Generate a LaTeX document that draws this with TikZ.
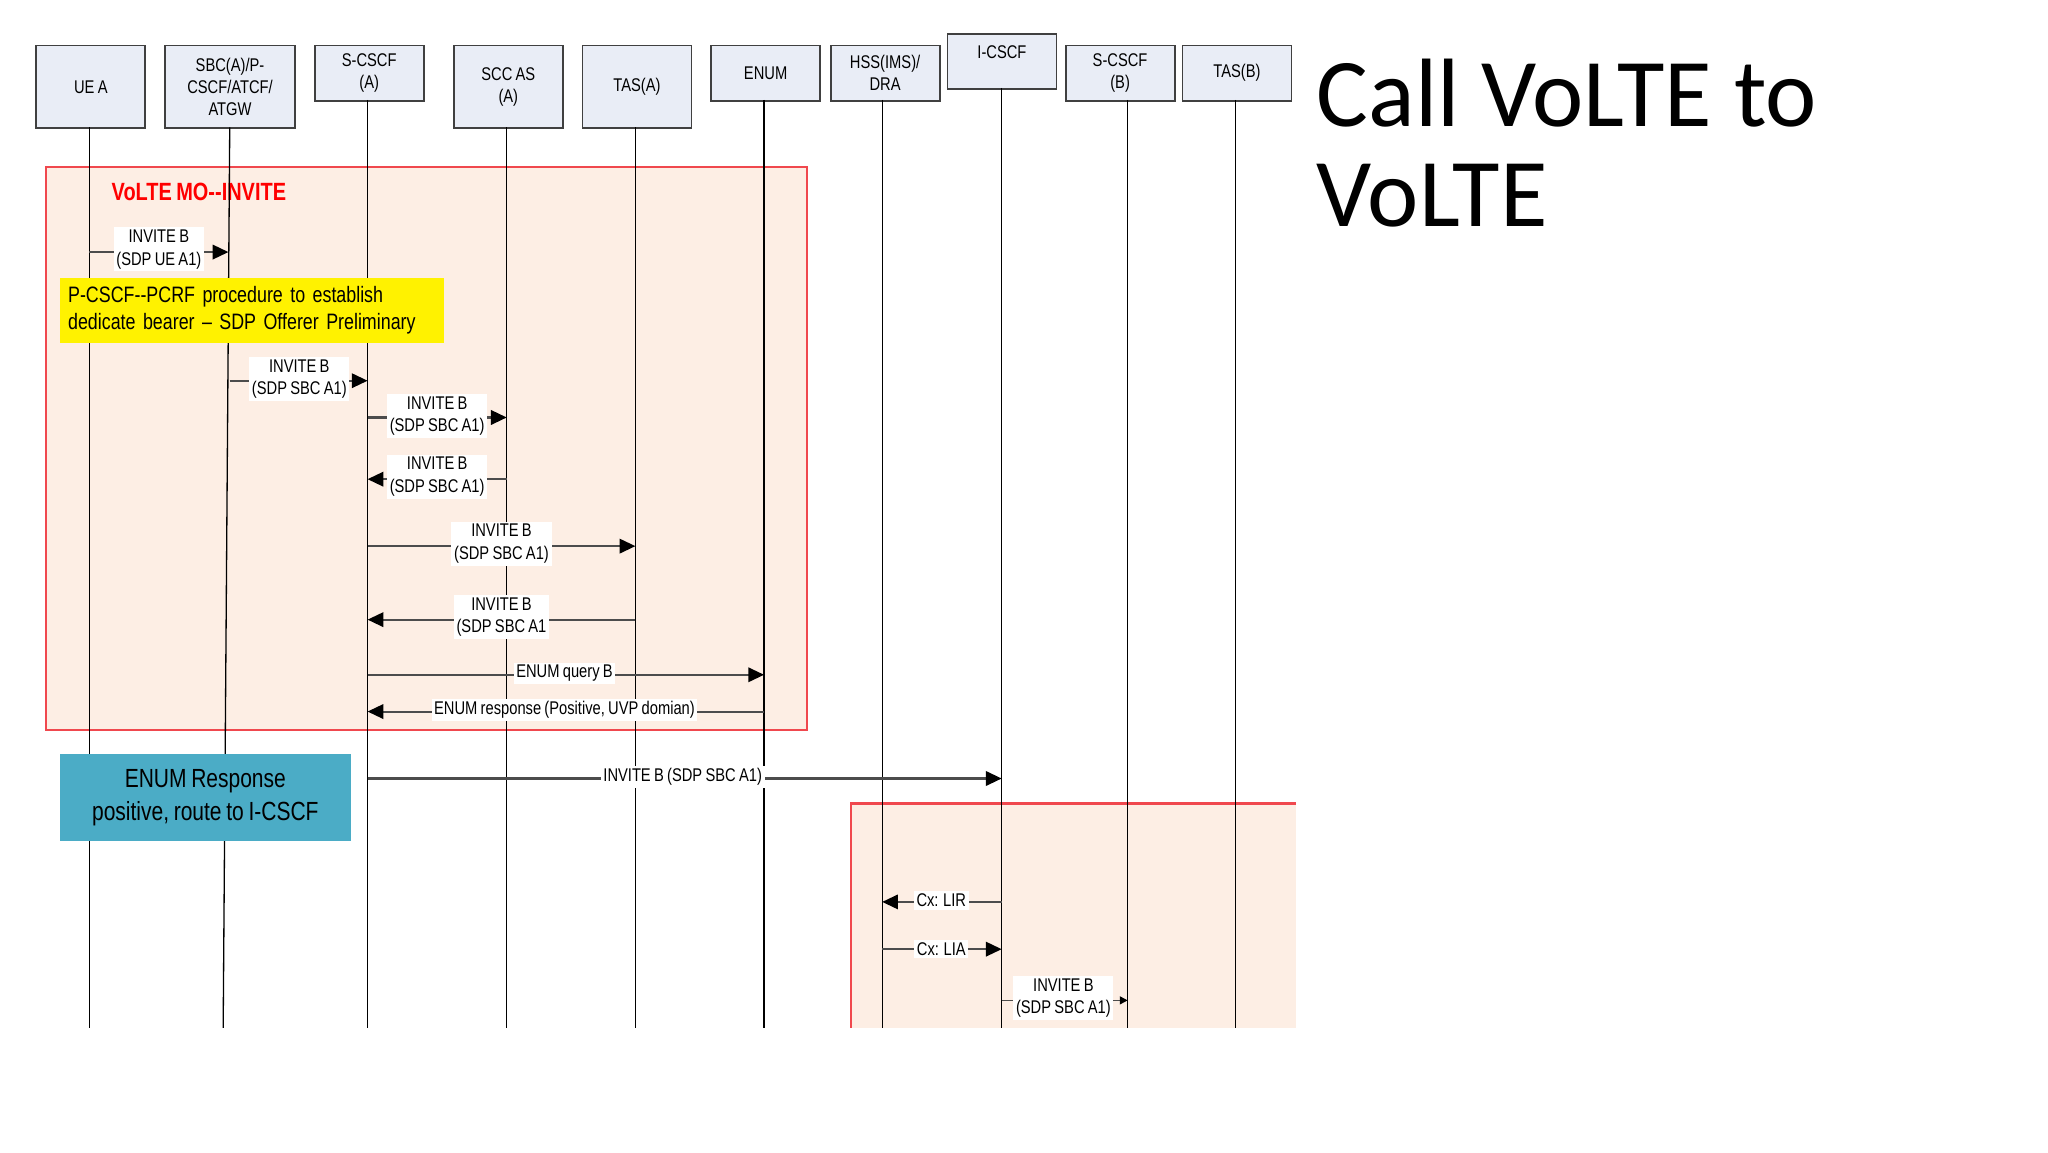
\documentclass[tikz,border=0pt]{standalone}
\usepackage{fontspec}
\setmainfont{Liberation Sans}
\newfontfamily\narrow[FakeStretch=0.8,WordSpace=0.8]{Liberation Sans}
\newfontfamily\titlefont{Carlito}
\usetikzlibrary{arrows.meta,calc}
\definecolor{peach}{HTML}{FDEEE4}
\definecolor{frame}{HTML}{F0484E}
\definecolor{headfill}{HTML}{E9EDF6}
\definecolor{teal}{HTML}{4BACC6}
\begin{document}
\begin{tikzpicture}[x=0.5pt,y=-0.5pt,
  head/.style={draw=black!75,line width=0.7pt,fill=headfill,anchor=north west,inner sep=0pt,align=center,font=\narrow\fontsize{7}{8.5}\selectfont},
  life/.style={draw=black,line width=0.5pt},
  msg/.style={draw=black!70,line width=0.8pt,-{Triangle[length=6pt,width=5.5pt,black]}},
  lbl/.style={fill=white,inner sep=1pt,align=center,font=\narrow\fontsize{7}{8.5}\selectfont}]
\useasboundingbox (0,0) rectangle (1560,878);
% frames
\fill[peach] (35,127) rectangle (615,556);
\draw[frame,line width=0.8pt] (35,127) rectangle (615,556);
\fill[peach] (648,612) rectangle (987,783);
\draw[frame,line width=0.8pt] (648,783) -- (648,612) -- (987,612);
\node[anchor=west,text=red,font=\narrow\bfseries\fontsize{9.5}{11}\selectfont] (ftitle) at (78,146) {VoLTE MO-{}-INVITE};
% heads
\node[head,minimum width=41.5pt,minimum height=31.5pt] (h1) at (27,34) {UE A};
\node[head,minimum width=49.5pt,minimum height=31.5pt] (h2) at (125,34) {SBC(A)/P-\\CSCF/ATCF/\\ATGW};
\node[head,minimum width=41.5pt,minimum height=21pt] (h3) at (239,34) {S-CSCF\\(A)};
\node[head,minimum width=41.5pt,minimum height=31.5pt] (h4) at (345,34) {SCC AS\\(A)};
\node[head,minimum width=41.5pt,minimum height=31.5pt] (h5) at (443,34) {TAS(A)};
\node[head,minimum width=41.5pt,minimum height=21pt] (h6) at (541,34) {ENUM};
\node[head,minimum width=41.5pt,minimum height=21pt] (h7) at (632,34) {HSS(IMS)/\\DRA};
\node[head,minimum width=41.5pt,minimum height=21pt,text depth=7pt] (h8) at (721,25) {I-CSCF};
\node[head,minimum width=41.5pt,minimum height=21pt] (h9) at (811,34) {S-CSCF\\(B)};
\node[head,minimum width=41.5pt,minimum height=21pt] (h10) at (900,34) {TAS(B)};
% lifeline ends
\coordinate (e1) at (68,783); \coordinate (e2) at (170,783); \coordinate (e3) at (280,783);
\coordinate (e4) at (386,783); \coordinate (e5) at (484,783); \coordinate (e6) at (582,783);
\coordinate (e7) at (672,783); \coordinate (e8) at (763,783); \coordinate (e9) at (859,783);
\coordinate (e10) at (941,783);
\coordinate (s1) at (68,97); \coordinate (s2) at (175,97); \coordinate (s3) at (280,76);
\coordinate (s4) at (386,97); \coordinate (s5) at (484,97); \coordinate (s6) at (582,76);
\coordinate (s7) at (672,76); \coordinate (s8) at (763,67); \coordinate (s9) at (859,76);
\coordinate (s10) at (941,76);
\foreach \i in {1,...,10} {\draw[life] (s\i) -- (e\i);}
% boxes
\node[fill=yellow,anchor=north west,minimum width=146.5pt,minimum height=25pt,inner sep=3pt,align=left,text width=140pt,font=\narrow\fontsize{8.5}{10.5}\selectfont] (yb) at (45,211) {P-CSCF-{}-PCRF procedure to establish\\dedicate bearer – SDP Offerer Preliminary};
\node[fill=teal,anchor=north west,minimum width=111pt,minimum height=33pt,inner sep=0pt,align=center,font=\narrow\fontsize{10}{12.5}\selectfont] (tb) at (45,574) {ENUM Response\\positive, route to I-CSCF};
% messages
\coordinate (a1) at (68,192); \coordinate (b1) at (174,192);
\draw[msg] (a1) -- (b1);
\node[lbl] (l1) at (121,190) {INVITE B\\(SDP UE A1)};
\coordinate (a2) at (175,290); \coordinate (b2) at (280,290);
\draw[msg] (a2) -- (b2);
\node[lbl] (l2) at (228,289) {INVITE B\\(SDP SBC A1)};
\coordinate (a3) at (280,318); \coordinate (b3) at (386,318);
\draw[msg] (a3) -- (b3);
\node[lbl] (l3) at (333,317) {INVITE B\\(SDP SBC A1)};
\coordinate (a4) at (386,365); \coordinate (b4) at (280,365);
\draw[msg] (a4) -- (b4);
\node[lbl] (l4) at (333,363) {INVITE B\\(SDP SBC A1)};
\coordinate (a5) at (280,416); \coordinate (b5) at (484,416);
\draw[msg] (a5) -- (b5);
\node[lbl] (l5) at (382,414) {INVITE B\\(SDP SBC A1)};
\coordinate (a6) at (484,472); \coordinate (b6) at (280,472);
\draw[msg] (a6) -- (b6);
\node[lbl] (l6) at (382,470) {INVITE B\\(SDP SBC A1};
\coordinate (a7) at (280,514); \coordinate (b7) at (582,514);
\draw[msg] (a7) -- (b7);
\node[lbl] (l7) at (430,513) {ENUM query B};
\coordinate (a8) at (582,542); \coordinate (b8) at (280,542);
\draw[msg] (a8) -- (b8);
\node[lbl] (l8) at (430,541) {ENUM response (Positive, UVP domian)};
\coordinate (a9) at (280,593); \coordinate (b9) at (763,593);
\draw[msg] (a9) -- (b9);
\node[lbl] (l9) at (520,592) {INVITE B (SDP SBC A1)};
\coordinate (a10) at (763,687); \coordinate (b10) at (672,687);
\draw[msg] (a10) -- (b10);
\node[lbl] (l10) at (717,686) {Cx: LIR};
\coordinate (a11) at (672,723); \coordinate (b11) at (763,723);
\draw[msg] (a11) -- (b11);
\node[lbl] (l11) at (717,723) {Cx: LIA};
\coordinate (a12) at (763,762); \coordinate (b12) at (859,762);
\draw[draw=black!70,line width=0.6pt,-{Triangle[length=3pt,width=3pt,black]}] (a12) -- (b12);
\node[lbl] (l12) at (810,760) {INVITE B\\(SDP SBC A1)};
% title
\node[anchor=north west,align=left,font=\titlefont\fontsize{37}{38}\selectfont] (title) at (996,38) {Call VoLTE to\\VoLTE};
\end{tikzpicture}
\end{document}
